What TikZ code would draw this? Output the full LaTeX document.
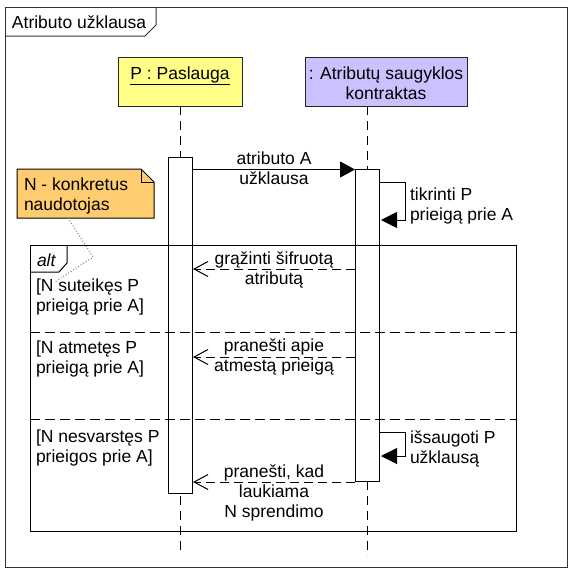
\documentclass[tikz,border=0pt]{standalone}
\usepackage{fontspec}
\setmainfont{Liberation Sans}
\usetikzlibrary{arrows.meta}
\definecolor{pyellow}{RGB}{255,255,136}
\definecolor{apurple}{RGB}{204,192,255}
\definecolor{noteorange}{RGB}{255,204,112}
\begin{document}
\begin{tikzpicture}[x=1pt,y=-1pt,
  every node/.style={font=\fontsize{17.5}{20}\selectfont, inner sep=0pt, outer sep=0pt},
  frameline/.style={line width=1pt, draw=black!80},
  ln/.style={line width=1pt, draw=black},
  lifeline/.style={line width=1pt, dash pattern=on 9pt off 6pt},
  partbox/.style={draw=black!85, line width=1pt, anchor=north west},
  actbox/.style={draw, fill=white, line width=1pt, anchor=north west, minimum width=24pt},
  sepline/.style={line width=1pt, dash pattern=on 10pt off 5pt},
  callarrow/.style={line width=1pt, -{Triangle[length=15pt,width=16pt]}},
  selfarrow/.style={line width=1pt, -{Triangle[length=16pt,width=16pt]}},
  retarrow/.style={line width=1pt, dash pattern=on 9pt off 5pt, -{Straight Barb[length=14pt,width=15pt,line width=1pt]}},
  lbl/.style={align=center, anchor=base},
  lbll/.style={align=left, anchor=base west},
  ]
\useasboundingbox (0,0) rectangle (574,576);
\fill[white] (0,0) rectangle (574,576);

% outer frame
\draw[frameline] (5,7) rectangle (567,567);
\draw[frameline] (5,36) -- (145,36) -- (156,25) -- (156,7);
\node[lbll] (title) at (12,28.5) {Atributo užklausa};

% participants
\node[partbox, fill=pyellow, minimum width=124pt, minimum height=49pt] (P) at (118,57) {};
\node[anchor=base] (Ptxt) at (180,79) {\underline{P : Paslauga}};
\node[partbox, fill=apurple, minimum width=162pt, minimum height=49pt] (A) at (305,57) {};
\node[lbl] (Atxt) at (386,99.5) {: Atributų saugyklos\\kontraktas};

% lifelines
\coordinate (Pend) at (180,553);
\coordinate (Aend) at (367,556);
\draw[lifeline] (P.south) -- (Pend);
\draw[lifeline] (P.south -| Aend) -- (Aend);

% activations
\node[actbox, minimum height=336pt] (PA) at (168,157) {};
\node[actbox, minimum height=312pt] (AA) at (355,169) {};

% note
\coordinate (nb) at (68,218);
\coordinate (nm) at (93,257);
\coordinate (ne) at (55,282);
\draw[ln, fill=noteorange] (17,169) -- (141,169) -- (154,182) -- (154,218) -- (17,218) -- cycle;
\draw[ln] (141,169) -- (141,182) -- (154,182);
\node[lbll] (note) at (24,210) {N - konkretus\\naudotojas};
\draw[gray, line width=1pt, dash pattern=on 1pt off 2pt] (nb) -- (nm) -- (ne);

% alt fragment
\draw[ln] (30,245) rectangle (516,531);
\draw[ln] (30,272) -- (59,272) -- (67,263) -- (67,245);
\node[lbll] (alt) at (37,266) {\itshape alt};
\draw[sepline] (30,332) -- (516,332);
\draw[sepline] (30,419) -- (516,419);
\node[lbll] (g1) at (36,311) {[N suteikęs P\\prieigą prie A]};
\node[lbll] (g2) at (36,373) {[N atmetęs P\\prieigą prie A]};
\node[lbll] (g3) at (36,462) {[N nesvarstęs P\\prieigos prie A]};

% message 1
\coordinate (m1) at (0,169.5);
\draw[callarrow] (PA.east |- m1) -- (AA.west |- m1);
\node[lbl] (m1t) at (274,184) {atributo A\\užklausa};

% self message 1
\coordinate (s1a) at (405,182);
\coordinate (s1b) at (405,220);
\draw[selfarrow] (AA.east |- s1a) -- (s1a) -- (s1b) -- ([xshift=2pt]AA.east |- s1b);
\node[lbll] (s1t) at (410,220) {tikrinti P\\prieigą prie A};

% return 1
\coordinate (r1) at (0,269);
\draw[retarrow] (AA.west |- r1) -- ([xshift=1pt]PA.east |- r1);
\node[lbl] (r1t) at (274,284) {grąžinti šifruotą\\atributą};

% return 2
\coordinate (r2) at (0,357);
\draw[retarrow] (AA.west |- r2) -- ([xshift=1pt]PA.east |- r2);
\node[lbl] (r2t) at (274,371) {pranešti apie\\atmestą prieigą};

% self message 2
\coordinate (s2a) at (405,432);
\coordinate (s2b) at (405,456);
\draw[selfarrow] (AA.east |- s2a) -- (s2a) -- (s2b) -- ([xshift=2pt]AA.east |- s2b);
\node[lbll] (s2t) at (410,463) {išsaugoti P\\užklausą};

% return 3
\coordinate (r3) at (0,482);
\draw[retarrow] (AA.west |- r3) -- ([xshift=1pt]PA.east |- r3);
\node[lbl] (r3t) at (274,517) {pranešti, kad\\laukiama\\N sprendimo};
\end{tikzpicture}
\end{document}
